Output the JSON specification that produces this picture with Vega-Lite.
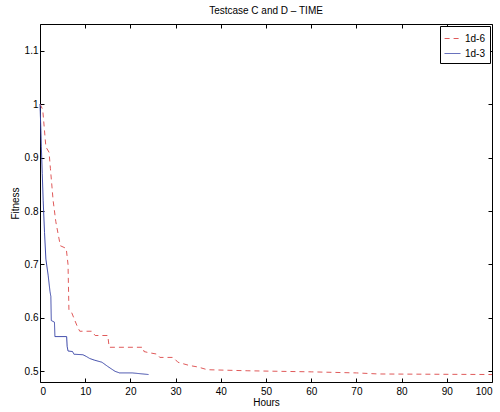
{
  "$schema": "https://vega.github.io/schema/vega-lite/v6.json",
  "width": 452,
  "height": 358,
  "autosize": {"type": "none"},
  "padding": {"left": 40, "top": 24, "right": 8, "bottom": 30},
  "background": "white",
  "config": {
    "font": "Liberation Sans",
    "view": {"stroke": "black", "strokeWidth": 1},
    "axis": {"grid": false, "domainColor": "black", "tickColor": "black", "labelColor": "black", "titleColor": "black", "labelFontSize": 10, "titleFontSize": 10, "titleFontWeight": "normal", "labelFont": "Liberation Sans", "titleFont": "Liberation Sans"}
  },
  "title": {"text": "Testcase C and D – TIME", "fontSize": 10, "fontWeight": "normal", "font": "Liberation Sans", "color": "black", "offset": 8, "anchor": "middle"},
  "data": {"values": [
    {"h": 0, "f": 1.0, "s": "1d-6"},
    {"h": 0.6, "f": 0.99, "s": "1d-6"},
    {"h": 1.3, "f": 0.92, "s": "1d-6"},
    {"h": 2.0, "f": 0.91, "s": "1d-6"},
    {"h": 2.3, "f": 0.88, "s": "1d-6"},
    {"h": 2.9, "f": 0.82, "s": "1d-6"},
    {"h": 3.5, "f": 0.78, "s": "1d-6"},
    {"h": 4.5, "f": 0.735, "s": "1d-6"},
    {"h": 5.8, "f": 0.73, "s": "1d-6"},
    {"h": 6.2, "f": 0.70, "s": "1d-6"},
    {"h": 6.4, "f": 0.615, "s": "1d-6"},
    {"h": 7.0, "f": 0.61, "s": "1d-6"},
    {"h": 8.2, "f": 0.585, "s": "1d-6"},
    {"h": 8.8, "f": 0.575, "s": "1d-6"},
    {"h": 11.5, "f": 0.575, "s": "1d-6"},
    {"h": 12.2, "f": 0.567, "s": "1d-6"},
    {"h": 15.0, "f": 0.567, "s": "1d-6"},
    {"h": 15.3, "f": 0.545, "s": "1d-6"},
    {"h": 22.8, "f": 0.545, "s": "1d-6"},
    {"h": 23.0, "f": 0.537, "s": "1d-6"},
    {"h": 24.0, "f": 0.535, "s": "1d-6"},
    {"h": 26.0, "f": 0.532, "s": "1d-6"},
    {"h": 26.5, "f": 0.526, "s": "1d-6"},
    {"h": 29.5, "f": 0.526, "s": "1d-6"},
    {"h": 30.5, "f": 0.517, "s": "1d-6"},
    {"h": 33.0, "f": 0.511, "s": "1d-6"},
    {"h": 35.0, "f": 0.508, "s": "1d-6"},
    {"h": 37.0, "f": 0.503, "s": "1d-6"},
    {"h": 46.0, "f": 0.501, "s": "1d-6"},
    {"h": 60.0, "f": 0.499, "s": "1d-6"},
    {"h": 70.0, "f": 0.497, "s": "1d-6"},
    {"h": 75.0, "f": 0.495, "s": "1d-6"},
    {"h": 100.0, "f": 0.494, "s": "1d-6"},
    {"h": 0, "f": 1.0, "s": "1d-3"},
    {"h": 0.2, "f": 0.95, "s": "1d-3"},
    {"h": 0.3, "f": 0.92, "s": "1d-3"},
    {"h": 0.5, "f": 0.87, "s": "1d-3"},
    {"h": 0.7, "f": 0.82, "s": "1d-3"},
    {"h": 1.0, "f": 0.76, "s": "1d-3"},
    {"h": 1.3, "f": 0.71, "s": "1d-3"},
    {"h": 1.8, "f": 0.68, "s": "1d-3"},
    {"h": 2.2, "f": 0.65, "s": "1d-3"},
    {"h": 2.4, "f": 0.64, "s": "1d-3"},
    {"h": 2.5, "f": 0.595, "s": "1d-3"},
    {"h": 3.2, "f": 0.592, "s": "1d-3"},
    {"h": 3.3, "f": 0.565, "s": "1d-3"},
    {"h": 5.9, "f": 0.565, "s": "1d-3"},
    {"h": 6.0, "f": 0.547, "s": "1d-3"},
    {"h": 6.2, "f": 0.538, "s": "1d-3"},
    {"h": 7.2, "f": 0.537, "s": "1d-3"},
    {"h": 7.5, "f": 0.532, "s": "1d-3"},
    {"h": 9.5, "f": 0.531, "s": "1d-3"},
    {"h": 10.2, "f": 0.528, "s": "1d-3"},
    {"h": 11.0, "f": 0.524, "s": "1d-3"},
    {"h": 12.0, "f": 0.521, "s": "1d-3"},
    {"h": 13.7, "f": 0.517, "s": "1d-3"},
    {"h": 15.0, "f": 0.509, "s": "1d-3"},
    {"h": 16.6, "f": 0.500, "s": "1d-3"},
    {"h": 17.6, "f": 0.497, "s": "1d-3"},
    {"h": 20.4, "f": 0.497, "s": "1d-3"},
    {"h": 24.0, "f": 0.494, "s": "1d-3"}
  ]},
  "layer": [
    {
      "mark": {"type": "line", "strokeWidth": 1, "interpolate": "linear"},
      "encoding": {
        "x": {"field": "h", "type": "quantitative", "scale": {"domain": [0, 100], "nice": false, "zero": false},
              "axis": {"title": "Hours", "values": [0,10,20,30,40,50,60,70,80,90,100], "tickSize": -4, "labelPadding": 8, "titlePadding": 1, "domain": false}},
        "y": {"field": "f", "type": "quantitative", "scale": {"domain": [0.48, 1.15], "nice": false, "zero": false},
              "axis": {"title": "Fitness", "values": [0.5,0.6,0.7,0.8,0.9,1.0,1.1], "format": "~g", "tickSize": -4, "labelPadding": 6, "titlePadding": 4, "domain": false}},
        "color": {"field": "s", "type": "nominal", "scale": {"domain": ["1d-6", "1d-3"], "range": ["#e05a5a", "#3a46a8"]},
                  "legend": {"title": null, "orient": "top-right", "offset": 2, "strokeColor": "black", "fillColor": "white", "padding": 4, "symbolType": "stroke", "symbolSize": 250, "labelFontSize": 10, "labelColor": "black", "rowPadding": 1, "symbolStrokeWidth": 1}},
        "strokeDash": {"field": "s", "type": "nominal", "scale": {"domain": ["1d-6", "1d-3"], "range": [[5, 4], [1, 0]]}, "legend": null}
      }
    },
    {
      "mark": {"type": "point", "opacity": 0},
      "encoding": {
        "x": {"field": "h", "type": "quantitative",
              "axis": {"orient": "top", "title": null, "labels": false, "values": [0,10,20,30,40,50,60,70,80,90,100], "tickSize": -4, "domain": false}},
        "y": {"field": "f", "type": "quantitative",
              "axis": {"orient": "right", "title": null, "labels": false, "values": [0.5,0.6,0.7,0.8,0.9,1.0,1.1], "tickSize": -4, "domain": false}}
      }
    }
  ],
  "resolve": {"axis": {"x": "independent", "y": "independent"}}
}
